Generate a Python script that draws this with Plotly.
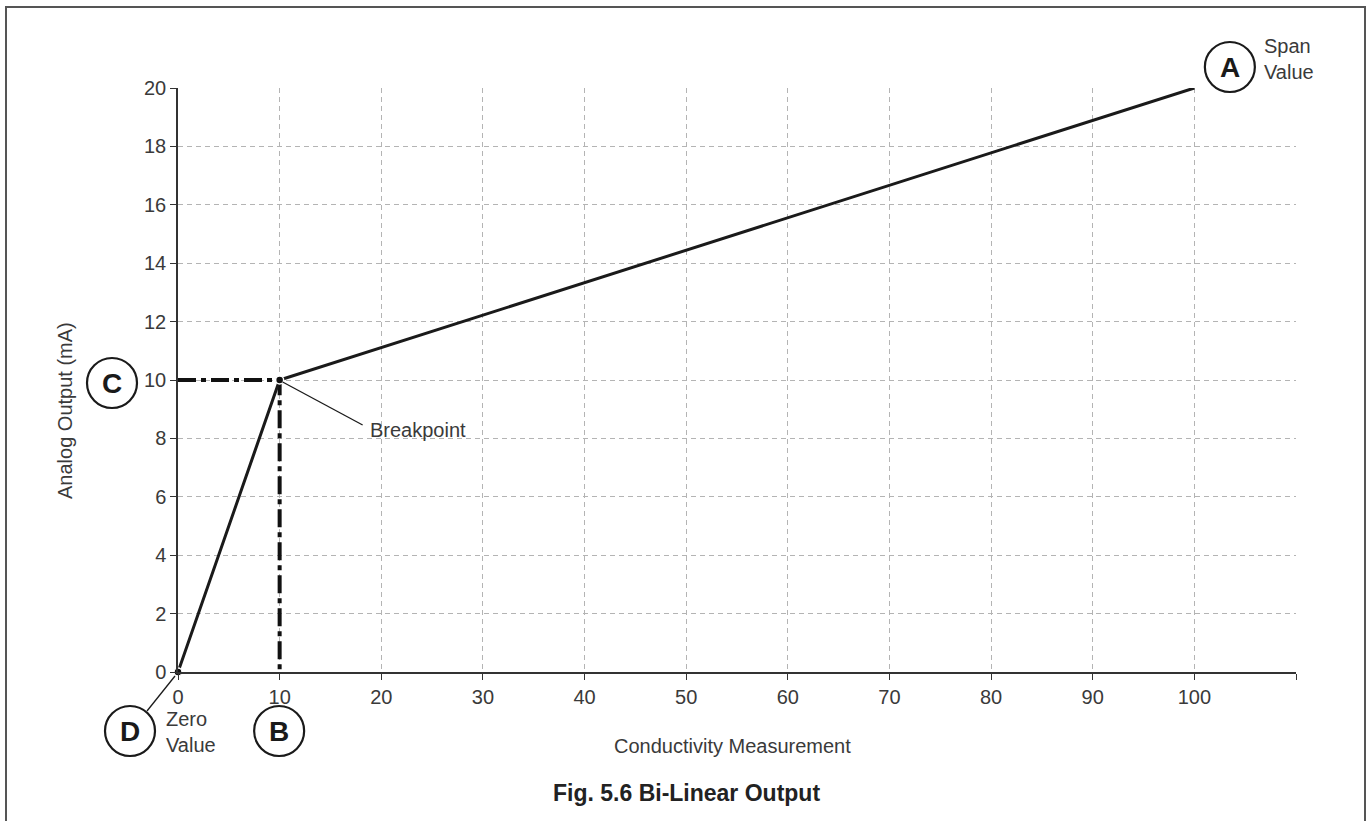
import plotly.graph_objects as go

# Bi-linear output characteristic: zero point, breakpoint, span point
conductivity = [0, 10, 100]
output_ma = [0, 10, 20]

# Breakpoint settings (B = conductivity, C = output)
break_x = 10
break_y = 10

x_ticks = [0, 10, 20, 30, 40, 50, 60, 70, 80, 90, 100, 110]
x_tick_text = ["0", "10", "20", "30", "40", "50", "60", "70", "80", "90", "100", ""]
y_ticks = [0, 2, 4, 6, 8, 10, 12, 14, 16, 18, 20]

X_MAX = 110
Y_MAX = 20

FONT = "Liberation Sans, Arial, Helvetica, sans-serif"
TXT = "#3a3a3a"

W, H = 1366, 821
ML, MR, MT, MB = 178, 70, 88, 149
PW = W - ML - MR
PH = H - MT - MB


def px_to_paper_x(px):
    return (px - ML) / PW


def px_to_paper_y(py):
    return (H - MB - py) / PH


fig = go.Figure()

# dash-dot guides from the breakpoint to both axes
fig.add_trace(go.Scatter(
    x=[0, break_x, break_x], y=[break_y, break_y, 0],
    mode="lines", line=dict(color="#111111", width=4, dash="18px,5px,5px,5px"),
    hoverinfo="skip", showlegend=False,
))

# output curve
fig.add_trace(go.Scatter(
    x=conductivity, y=output_ma, mode="lines",
    line=dict(color="#1a1a1a", width=3),
    hoverinfo="skip", showlegend=False,
))

# zero and breakpoint markers
fig.add_trace(go.Scatter(
    x=[conductivity[0], break_x], y=[output_ma[0], break_y], mode="markers",
    marker=dict(color="#111111", size=8, line=dict(color="white", width=1.5)),
    cliponaxis=False, hoverinfo="skip", showlegend=False,
))

shapes = []
annotations = []


def circled_letter(letter, xv, yv, dx, dy, r=25):
    shapes.append(dict(
        type="circle", xref="paper", yref="paper",
        xsizemode="pixel", ysizemode="pixel",
        xanchor=xv / X_MAX, yanchor=yv / Y_MAX,
        x0=dx - r, x1=dx + r, y0=dy - r, y1=dy + r,
        line=dict(color="#1a1a1a", width=2.2), fillcolor="white", layer="above",
    ))
    annotations.append(dict(
        x=xv, y=yv, xref="x", yref="y", xshift=dx, yshift=dy,
        text=f"<b>{letter}</b>", showarrow=False,
        font=dict(family=FONT, size=28, color="#1a1a1a"),
        xanchor="center", yanchor="middle",
    ))


def leader(xv, yv, dx0, dy0, dx1, dy1):
    shapes.append(dict(
        type="line", xref="paper", yref="paper",
        xsizemode="pixel", ysizemode="pixel",
        xanchor=xv / X_MAX, yanchor=yv / Y_MAX,
        x0=dx0, y0=dy0, x1=dx1, y1=dy1,
        line=dict(color="#1a1a1a", width=1.3), layer="above",
    ))


def note(text, xv, yv, dx, dy):
    annotations.append(dict(
        x=xv, y=yv, xref="x", yref="y", xshift=dx, yshift=dy,
        text=text, showarrow=False, align="left",
        font=dict(family=FONT, size=20, color=TXT),
        xanchor="left", yanchor="middle",
    ))


circled_letter("A", conductivity[-1], output_ma[-1], 35.5, 21)
circled_letter("B", break_x, 0, -0.5, -59)
circled_letter("C", 0, break_y, -66, -3)
circled_letter("D", conductivity[0], output_ma[0], -48, -59)

leader(break_x, break_y, 3, -2, 83, -45)
leader(conductivity[0], output_ma[0], -3, -4, -31, -39)

note("Span<br>Value", conductivity[-1], output_ma[-1], 68, 29)
note("Zero<br>Value", conductivity[0], output_ma[0], -14, -60)
note("Breakpoint", break_x, break_y, 88, -50)

# axis titles and figure caption
annotations.append(dict(
    x=px_to_paper_x(732), y=px_to_paper_y(746), xref="paper", yref="paper",
    text="Conductivity Measurement", showarrow=False,
    font=dict(family=FONT, size=20, color=TXT),
    xanchor="center", yanchor="middle",
))
annotations.append(dict(
    x=px_to_paper_x(65), y=px_to_paper_y(411), xref="paper", yref="paper",
    text="Analog Output (mA)", showarrow=False, textangle=-90,
    font=dict(family=FONT, size=20, color=TXT),
    xanchor="center", yanchor="middle",
))
annotations.append(dict(
    x=px_to_paper_x(686), y=px_to_paper_y(793), xref="paper", yref="paper",
    text="<b>Fig. 5.6 Bi-Linear Output</b>", showarrow=False,
    font=dict(family=FONT, size=23, color="#222222"),
    xanchor="center", yanchor="middle",
))

# frame around the whole figure
shapes.append(dict(
    type="rect", xref="paper", yref="paper",
    x0=px_to_paper_x(6), x1=px_to_paper_x(1365),
    y0=px_to_paper_y(840), y1=px_to_paper_y(7),
    line=dict(color="#555555", width=2), fillcolor="rgba(0,0,0,0)", layer="below",
))

fig.update_layout(
    width=W, height=H,
    margin=dict(l=ML, r=MR, t=MT, b=MB, pad=0),
    paper_bgcolor="white", plot_bgcolor="white",
    font=dict(family=FONT, size=20, color=TXT),
    shapes=shapes, annotations=annotations,
    showlegend=False,
)

axis_style = dict(
    showgrid=True, gridcolor="#b4b4b4", gridwidth=1, griddash="5px,4px",
    showline=True, linecolor="#333333", linewidth=1.5,
    ticks="outside", ticklen=6, tickcolor="#333333", tickwidth=1.2,
    tickfont=dict(family=FONT, size=20, color=TXT),
    zeroline=False, fixedrange=True,
)

fig.update_xaxes(range=[0, X_MAX], tickvals=x_ticks, ticktext=x_tick_text, **axis_style)
fig.update_yaxes(range=[0, Y_MAX], tickvals=y_ticks, **axis_style)

fig.write_html("out.html")
